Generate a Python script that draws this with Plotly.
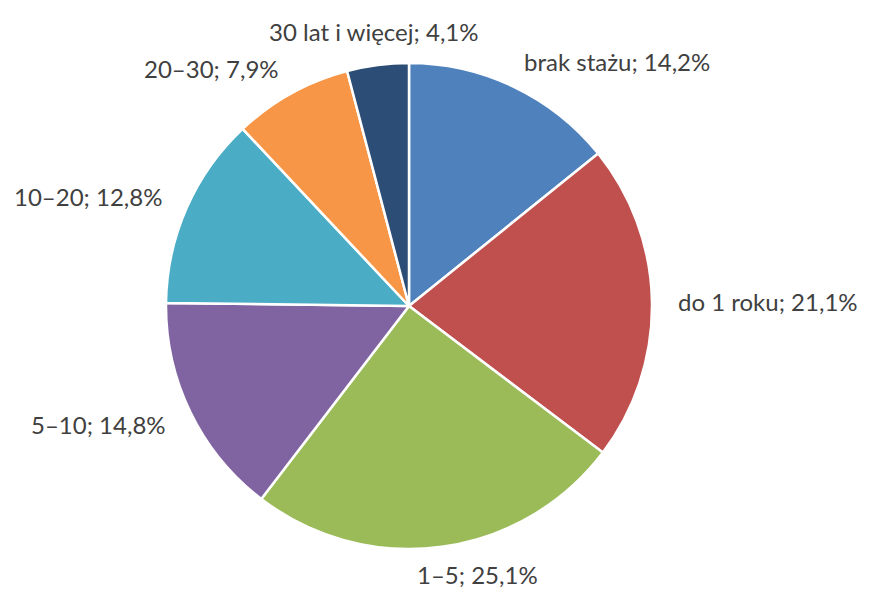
import math
import plotly.graph_objects as go

categories = ["brak stażu", "do 1 roku", "1–5", "5–10", "10–20", "20–30", "30 lat i więcej"]
values = [14.2, 21.1, 25.1, 14.8, 12.8, 7.9, 4.1]
colors = ["#4F81BD", "#C0504D", "#9BBB59", "#8064A2", "#4BACC6", "#F79646", "#2C4D75"]

OFF = 8  # default page body margin
W, H = 869 - OFF, 592 - OFF
cx, cy, R = 409 - OFF, 306 - OFF, 243  # pixel centre and radius of the pie (figure coords)

fig = go.Figure(go.Pie(
    labels=categories,
    values=values,
    sort=False,
    direction="clockwise",
    rotation=0,
    marker=dict(colors=colors, line=dict(color="white", width=2.5)),
    textinfo="none",
    hoverinfo="label+percent",
    domain=dict(x=[(cx - R) / W, (cx + R) / W], y=[(H - cy - R) / H, (H - cy + R) / H]),
    showlegend=False,
))

total = sum(values)
cum = 0
annotations = []
for cat, v in zip(categories, values):
    mid = (cum + v / 2) / total * 2 * math.pi
    cum += v
    s, c = math.sin(mid), math.cos(mid)
    r = R * 1.115
    px = cx + r * s
    py = cy - r * c
    if abs(s) < 0.2:
        xa = "center"
        if c < 0:
            px += 32
        else:
            py -= 6
    elif s > 0:
        xa = "left"
        px -= 4
    else:
        xa = "right"
        px += 3
    annotations.append(dict(
        x=px / W, y=1 - py / H, xref="paper", yref="paper",
        text=f"{cat}; {str(v).replace('.', ',')}%",
        showarrow=False, xanchor=xa, yanchor="middle",
        font=dict(family="Lato, Open Sans, sans-serif", size=24, color="#404040"),
    ))

fig.update_layout(
    width=W, height=H,
    margin=dict(l=0, r=0, t=0, b=0),
    paper_bgcolor="white",
    plot_bgcolor="white",
    annotations=annotations,
)

fig.write_html("out.html")
